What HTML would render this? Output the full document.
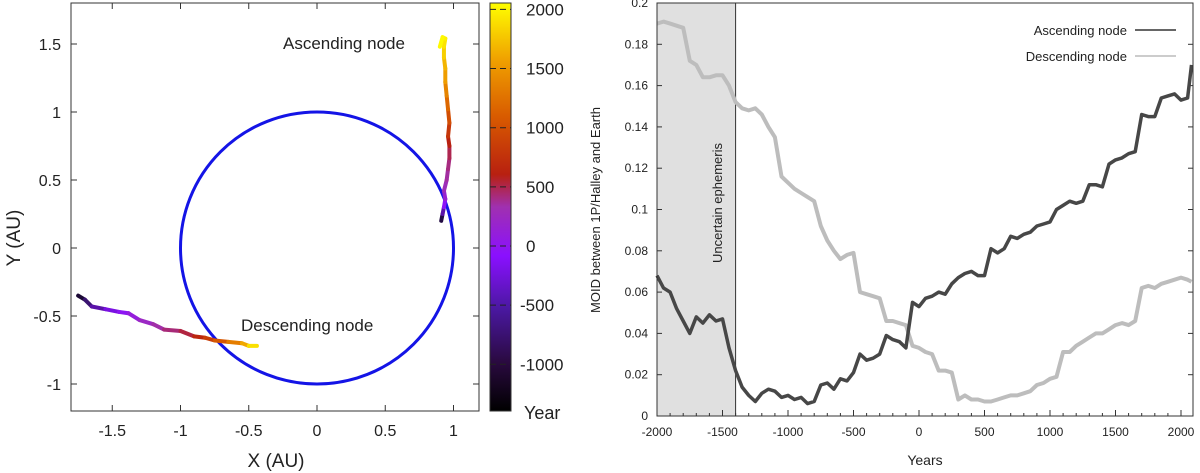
<!DOCTYPE html>
<html><head><meta charset="utf-8"><style>
body{margin:0;background:#fff;}
svg{display:block;font-family:"Liberation Sans","DejaVu Sans",sans-serif;}
</style></head><body>
<svg id="fig" width="1200" height="473" viewBox="0 0 1200 473">
<defs>
<linearGradient id="cmap" x1="0" y1="1" x2="0" y2="0">
<stop offset="0" stop-color="#000000"/>
<stop offset="0.12" stop-color="#2a0a40"/>
<stop offset="0.25" stop-color="#4a18a0"/>
<stop offset="0.38" stop-color="#8a10ff"/>
<stop offset="0.5" stop-color="#a030b0"/>
<stop offset="0.58" stop-color="#b82010"/>
<stop offset="0.72" stop-color="#d85a00"/>
<stop offset="0.86" stop-color="#f0a000"/>
<stop offset="1" stop-color="#ffff00"/>
</linearGradient>
</defs>
<g id="left"></g>
<g id="right"></g>
</svg>
<script>
// ---- Left chart data ----
const ascX = [0.91,0.92,0.93,0.94,0.93,0.95,0.96,0.97,0.97,0.96,0.97,0.96,0.95,0.94,0.94,0.93,0.93,0.94,0.92,0.90];
const ascY = [0.20,0.25,0.30,0.36,0.42,0.50,0.58,0.66,0.75,0.82,0.92,1.02,1.12,1.22,1.32,1.40,1.48,1.54,1.55,1.48];
const ascYear = [-1300,-1000,-600,-300,-100,0,100,200,400,600,800,1000,1200,1400,1550,1700,1850,1950,2000,2050];
const desX = [-1.75,-1.70,-1.65,-1.55,-1.45,-1.38,-1.30,-1.20,-1.12,-1.00,-0.90,-0.82,-0.75,-0.65,-0.55,-0.50,-0.44];
const desY = [-0.35,-0.38,-0.43,-0.45,-0.47,-0.48,-0.53,-0.56,-0.60,-0.61,-0.65,-0.66,-0.68,-0.69,-0.70,-0.72,-0.72];
const desYear = [-1300,-1100,-900,-700,-500,-350,-200,-50,100,250,450,650,850,1100,1400,1700,2050];
const leftXTicks = [-1.5,-1,-0.5,0,0.5,1];
const leftYTicks = [-1,-0.5,0,0.5,1,1.5];
const cbTicks = [-1000,-500,0,500,1000,1500,2000];

// ---- Right chart data ----
const years = [-2000,-1950,-1900,-1850,-1800,-1750,-1700,-1650,-1600,-1550,-1500,-1450,-1400,-1350,-1300,-1250,-1200,-1150,-1100,-1050,-1000,-950,-900,-850,-800,-750,-700,-650,-600,-550,-500,-450,-400,-350,-300,-250,-200,-150,-100,-50,0,50,100,150,200,250,300,350,400,450,500,550,600,650,700,750,800,850,900,950,1000,1050,1100,1150,1200,1250,1300,1350,1400,1450,1500,1550,1600,1650,1700,1750,1800,1850,1900,1950,2000,2050,2080];
const ascMoid = [0.068,0.062,0.060,0.052,0.046,0.040,0.048,0.045,0.049,0.046,0.047,0.033,0.022,0.014,0.010,0.007,0.011,0.013,0.012,0.009,0.010,0.008,0.009,0.006,0.007,0.015,0.016,0.013,0.018,0.017,0.021,0.030,0.027,0.028,0.030,0.039,0.037,0.036,0.033,0.055,0.053,0.057,0.058,0.060,0.059,0.064,0.067,0.069,0.070,0.068,0.068,0.081,0.079,0.081,0.087,0.086,0.088,0.089,0.092,0.093,0.094,0.100,0.102,0.104,0.103,0.104,0.112,0.112,0.111,0.122,0.124,0.125,0.127,0.128,0.146,0.145,0.145,0.154,0.155,0.156,0.153,0.154,0.170];
const desMoid = [0.190,0.191,0.190,0.189,0.188,0.172,0.170,0.164,0.164,0.165,0.165,0.160,0.152,0.149,0.148,0.149,0.146,0.140,0.135,0.116,0.113,0.110,0.108,0.106,0.104,0.092,0.085,0.080,0.076,0.078,0.079,0.060,0.059,0.058,0.057,0.046,0.046,0.045,0.044,0.034,0.033,0.031,0.030,0.022,0.022,0.021,0.008,0.010,0.008,0.008,0.007,0.007,0.008,0.009,0.010,0.010,0.011,0.012,0.015,0.016,0.018,0.019,0.031,0.031,0.034,0.036,0.038,0.040,0.040,0.042,0.044,0.045,0.044,0.046,0.062,0.063,0.062,0.064,0.065,0.066,0.067,0.066,0.065];
const xTickLabels = [-2000,-1500,-1000,-500,0,500,1000,1500,2000];
const yTickLabels = [0,0.02,0.04,0.06,0.08,0.1,0.12,0.14,0.16,0.18,0.2];

const NS='http://www.w3.org/2000/svg';
function mk(tag, attrs, parent, text){const e=document.createElementNS(NS,tag);for(const k in attrs)e.setAttribute(k,attrs[k]);if(text!==undefined)e.textContent=text;parent.appendChild(e);return e;}

// ---------- LEFT ----------
const L=document.getElementById('left');
const lx=v=>317+v*136.5, ly=v=>248-v*136;
let f=mk('rect',{x:71,y:3,width:408,height:408,fill:'none',stroke:'#333','stroke-width':1},L);

leftXTicks.forEach(t=>{
  mk('line',{x1:lx(t),y1:411,x2:lx(t),y2:405,stroke:'#333'},L);
  mk('line',{x1:lx(t),y1:3,x2:lx(t),y2:9,stroke:'#333'},L);
  const e=mk('text',{x:lx(t),y:436,'text-anchor':'middle','font-size':16,fill:'#222'},L,String(t));
  
});
leftYTicks.forEach(t=>{
  mk('line',{x1:71,y1:ly(t),x2:77,y2:ly(t),stroke:'#333'},L);
  mk('line',{x1:479,y1:ly(t),x2:473,y2:ly(t),stroke:'#333'},L);
  const e=mk('text',{x:61,y:ly(t)+6,'text-anchor':'end','font-size':16,fill:'#222'},L,String(t));
  
});
let c=mk('ellipse',{cx:lx(0),cy:ly(0),rx:136.5,ry:136,fill:'none',stroke:'#1414e6','stroke-width':3},L);

const stops=[[-1380,[0,0,0]],[-1000,[58,20,112]],[-500,[138,16,255]],[0,[160,48,176]],[500,[184,32,16]],[1000,[216,90,0]],[1500,[240,160,0]],[2060,[255,255,0]]];
function col(y){for(let i=0;i<stops.length-1;i++){const a=stops[i],b=stops[i+1];if(y<=b[0]){const t=Math.max(0,(y-a[0])/(b[0]-a[0]));return 'rgb('+a[1].map((v,j)=>Math.round(v+(b[1][j]-v)*t)).join(',')+')';}}return 'rgb(255,255,0)';}
function track(xs,ys,yr,name){
  const g=mk('g',{},L);
  
  for(let i=0;i<xs.length-1;i++){
    mk('line',{x1:lx(xs[i]),y1:ly(ys[i]),x2:lx(xs[i+1]),y2:ly(ys[i+1]),stroke:col((yr[i]+yr[i+1])/2),'stroke-width':4,'stroke-linecap':'round'},g);
  }
}
track(ascX,ascY,ascYear,'ascending-node-track');
track(desX,desY,desYear,'descending-node-track');
let t1=mk('text',{x:283,y:49,'font-size':17,fill:'#222'},L,'Ascending node');

let t2=mk('text',{x:241,y:331,'font-size':17,fill:'#222'},L,'Descending node');

let xt=mk('text',{x:276,y:467,'text-anchor':'middle','font-size':19,fill:'#222'},L,'X (AU)');

let yt=mk('text',{x:0,y:0,'text-anchor':'middle','font-size':19,fill:'#222',transform:'translate(20,238) rotate(-90)'},L,'Y (AU)');

// colorbar
const cy=v=>246-v*0.1183;
let cb=mk('rect',{x:490,y:3,width:21,height:408,fill:'url(#cmap)',stroke:'#333'},L);

cbTicks.forEach(t=>{
  mk('line',{x1:490,y1:cy(t),x2:511,y2:cy(t),stroke:'#222','stroke-dasharray':'6,4'},L);
  const e=mk('text',{x:t<0?520:526,y:cy(t)+6,'font-size':17,fill:'#222'},L,String(t));
  
});
let yr=mk('text',{x:524,y:419,'font-size':18,fill:'#222'},L,'Year');


// ---------- RIGHT ----------
const R=document.getElementById('right');
const X0=657,X1=1193,Y0=3,Y1=416;
const rx=v=>X0+(v+2000)*0.131, ry=v=>Y1-v*2065;
let sh=mk('rect',{x:X0,y:Y0,width:rx(-1400)-X0,height:Y1-Y0,fill:'#e0e0e0'},R);

mk('line',{x1:rx(-1400),y1:Y0,x2:rx(-1400),y2:Y1,stroke:'#333'},R);
let ue=mk('text',{x:0,y:0,'text-anchor':'middle','font-size':13,fill:'#222',transform:'translate(722,203) rotate(-90)'},R,'Uncertain ephemeris');

for(let y=-2000;y<=2000;y+=100){
  const major=y%500===0;
  mk('line',{x1:rx(y),y1:Y1,x2:rx(y),y2:Y1-(major?6:3),stroke:'#333'},R);
}
xTickLabels.forEach(t=>{
  const e=mk('text',{x:rx(t),y:Y1+20,'text-anchor':'middle','font-size':12,fill:'#222'},R,String(t));
  
});
yTickLabels.forEach(t=>{
  mk('line',{x1:X0,y1:ry(t),x2:X0+5,y2:ry(t),stroke:'#333'},R);
  mk('line',{x1:X1,y1:ry(t),x2:X1-5,y2:ry(t),stroke:'#333'},R);
  const e=mk('text',{x:648,y:ry(t)+4,'text-anchor':'end','font-size':12,fill:'#222'},R,String(t));
  
});
function series(vals,color,w,name){
  const d=vals.map((v,i)=>(i?'L':'M')+rx(years[i]).toFixed(1)+','+ry(v).toFixed(1)).join('');
  const p=mk('path',{d:d,fill:'none',stroke:color,'stroke-width':w,'stroke-linejoin':'round'},R);
  
}
series(desMoid,'#bdbdbd',4,'descending-node-series');
series(ascMoid,'#474747',3.5,'ascending-node-series');
let rf=mk('rect',{x:X0,y:Y0,width:X1-X0,height:Y1-Y0,fill:'none',stroke:'#333'},R);

let lg=mk('g',{},R);

let la=mk('text',{x:1127,y:35,'text-anchor':'end','font-size':13,fill:'#222'},lg,'Ascending node');

mk('line',{x1:1135,y1:30,x2:1176,y2:30,stroke:'#666','stroke-width':2},lg);
let ld=mk('text',{x:1127,y:61,'text-anchor':'end','font-size':13,fill:'#222'},lg,'Descending node');

mk('line',{x1:1135,y1:56,x2:1176,y2:56,stroke:'#ccc','stroke-width':2},lg);
let rxt=mk('text',{x:925,y:465,'text-anchor':'middle','font-size':14,fill:'#222'},R,'Years');

let ryt=mk('text',{x:0,y:0,'text-anchor':'middle','font-size':13,fill:'#222',transform:'translate(600,210) rotate(-90)'},R,'MOID between 1P/Halley and Earth');

</script>
</body></html>
